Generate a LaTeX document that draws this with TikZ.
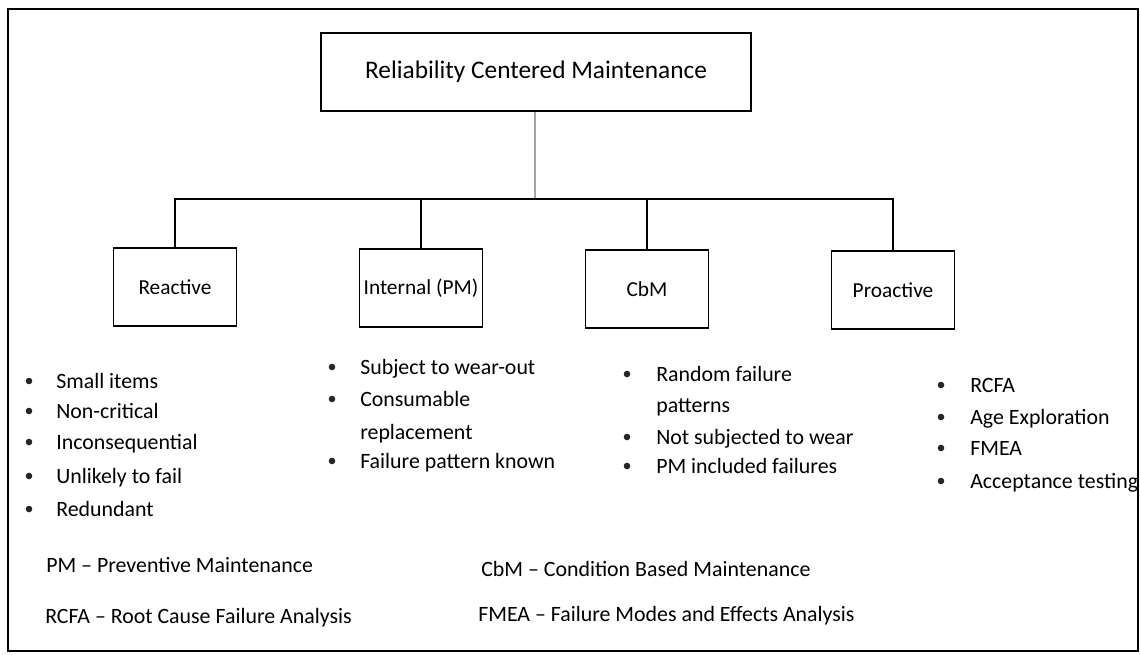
\documentclass[tikz,border=0pt]{standalone}
\usepackage{fontspec}
\setmainfont{Carlito}
\begin{document}
\begin{tikzpicture}[x=0.75pt,y=-0.75pt,
  outerframe/.style={draw=black, line width=1.4pt},
  titlebox/.style={draw=black, line width=1.4pt, inner sep=0pt,
    minimum width=322.5pt, minimum height=58.5pt,
    font=\fontsize{19}{22}\selectfont},
  catbox/.style={draw=black, line width=1.1pt, inner sep=0pt,
    minimum width=92.25pt, minimum height=58.5pt,
    font=\fontsize{16}{19}\selectfont},
  link/.style={draw=black, line width=0.9pt},
  trunk/.style={draw=black!35, line width=1.2pt},
  item/.style={anchor=base west, inner sep=0pt, font=\fontsize{16.4}{19}\selectfont},
  dot/.style={fill=black!85},
]
\useasboundingbox (0,0) rectangle (1141,654);
\draw[outerframe] (8,9) rectangle (1138,651);

% root and the four strategy boxes
\node[titlebox] (rcm) at (536,72) {Reliability Centered Maintenance};
\node[catbox] (react)  at (175,287) {Reactive};
\node[catbox] (intern) at (421,288) {Internal (PM)};
\node[catbox] (cbm)    at (647,289) {CbM};
\node[catbox] (proact) at (893,290) {Proactive};

% tree connectors
\coordinate (bus) at (535,199);
\draw[trunk] (rcm.south -| bus) -- (bus);
\draw[link] (react.north) |- (proact.north |- bus) -- (proact.north);
\draw[link] (intern.north) -- (intern.north |- bus);
\draw[link] (cbm.north) -- (cbm.north |- bus);

% Reactive list
\foreach \t/\y [count=\i] in {Small items/381, Non-critical/411, Inconsequential/442,
    Unlikely to fail/476, Redundant/509} {
  \fill[dot] (29,\y) circle[radius=3.3];
  \node[item] (ra\i) at (56,\y+7) {\t};
}

% Internal (PM) list
\foreach \t/\y [count=\i] in {Subject to wear-out/367, Consumable/399, Failure pattern known/461} {
  \fill[dot] (332,\y) circle[radius=3.3];
  \node[item] (pm\i) at (360,\y+7) {\t};
}
\node[item] (pm4) at (360,439) {replacement};

% CbM list
\foreach \t/\y [count=\i] in {Random failure/374, Not subjected to wear/437, PM included failures/466} {
  \fill[dot] (627,\y) circle[radius=3.3];
  \node[item] (cb\i) at (656,\y+7) {\t};
}
\node[item] (cb4) at (656,412) {patterns};

% Proactive list
\foreach \t/\y [count=\i] in {RCFA/385, Age Exploration/417, FMEA/448, Acceptance testing/481} {
  \fill[dot] (941,\y) circle[radius=3.3];
  \node[item] (pa\i) at (970,\y+7) {\t};
}

% abbreviations
\node[item] (abPM)   at (46,572)  {PM -- Preventive Maintenance};
\node[item] (abRCFA) at (45,623)  {RCFA -- Root Cause Failure Analysis};
\node[item] (abCbM)  at (481,576) {CbM -- Condition Based Maintenance};
\node[item] (abFMEA) at (478,621) {FMEA -- Failure Modes and Effects Analysis};
\end{tikzpicture}
\end{document}
